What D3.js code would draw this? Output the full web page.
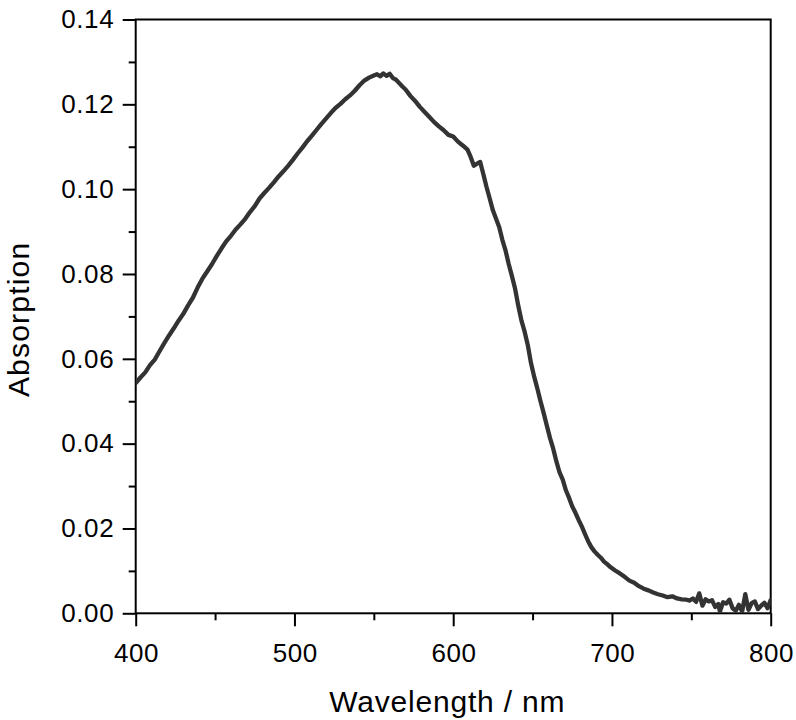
<!DOCTYPE html>
<html>
<head>
<meta charset="utf-8">
<script src="https://cdn.jsdelivr.net/npm/d3@7/dist/d3.min.js"></script>
<style>
  html, body { margin: 0; padding: 0; background: #fff; }
  svg { display: block; }
  text { font-family: "Liberation Sans", Arial, Helvetica, sans-serif; fill: #000; }
</style>
</head>
<body>
<svg id="chart" width="796" height="720"></svg>
<script>
// ---- data ----
const wavelength = [
  400,403,406,409,412,415,418,421,424,427,430,433,436,439,442,445,448,451,454,457,
  460,463,466,469,472,475,478,481,484,487,490,493,496,499,502,505,508,511,514,517,
  520,523,526,529,532,535,538,541,544,547,550,552,554,556,558,560,562,564,566,568,
  570,573,576,579,582,585,588,591,594,597,600,603,606,609,611,613,615,617,619,621,
  623,625,627,629,631,633,635,637,639,641,643,645,647,649,651,653,655,657,659,661,
  663,665,667,669,671,673,675,677,679,681,683,685,687,689,691,693,695,697,699,702,
  705,708,711,714,717,720,723,726,729,732,735,738,741,744,747,749,751,753,755,757,
  759,761,763,765,767,768,770,772,774,776,778,780,782,784,786,788,790,792,794,796,
  798,800
];
const absorption = [
  0.0543,0.0556,0.0568,0.0585,0.0598,0.0618,0.0637,0.0655,0.0672,0.0690,0.0706,0.0726,0.0744,0.0768,0.0789,0.0806,0.0823,0.0842,0.0860,0.0877,
  0.0890,0.0905,0.0917,0.0930,0.0946,0.0960,0.0978,0.0991,0.1003,0.1016,0.1030,0.1042,0.1055,0.1069,0.1084,0.1098,0.1113,0.1126,0.1140,0.1154,
  0.1167,0.1180,0.1192,0.1201,0.1212,0.1221,0.1232,0.1245,0.1256,0.1263,0.1268,0.1271,0.1266,0.1273,0.1267,0.1272,0.1262,0.1258,0.1250,0.1242,
  0.1235,0.1220,0.1208,0.1194,0.1182,0.1170,0.1158,0.1148,0.1139,0.1128,0.1124,0.1112,0.1103,0.1093,0.1076,0.1055,0.1060,0.1064,0.1035,0.1005,
  0.0978,0.0950,0.0930,0.0910,0.0880,0.0855,0.0823,0.0795,0.0765,0.0725,0.0690,0.0664,0.0632,0.0590,0.0558,0.0530,0.0500,0.0472,0.0442,0.0413,
  0.0388,0.0358,0.0332,0.0315,0.0290,0.0272,0.0252,0.0237,0.0220,0.0205,0.0187,0.0170,0.0156,0.0146,0.0138,0.0131,0.0122,0.0116,0.0109,0.0101,
  0.0094,0.0086,0.0077,0.0072,0.0064,0.0058,0.0054,0.0049,0.0045,0.0042,0.0038,0.0040,0.0035,0.0033,0.0032,0.0030,0.0035,0.0027,0.0047,0.0018,
  0.0033,0.0028,0.0031,0.0015,0.0022,0.0004,0.0026,0.0023,0.0032,0.0012,0.0006,0.0020,0.0004,0.0045,0.0008,0.0024,0.0028,0.0010,0.0018,0.0025,
  0.0012,0.0031
];
const xMajorTicks = [400, 500, 600, 700, 800];
const xMinorTicks = [450, 550, 650, 750];
const yMajorTicks = [0.00, 0.02, 0.04, 0.06, 0.08, 0.10, 0.12, 0.14];
const yMinorTicks = [0.01, 0.03, 0.05, 0.07, 0.09, 0.11, 0.13];
const xTitle = "Wavelength / nm";
const yTitle = "Absorption";

// ---- layout ----
const mLeft = 135.7, mRight = 770.7, mTop = 19.5, mBottom = 613.3;
const svg = d3.select("#chart");

const x = d3.scaleLinear().domain([400, 800]).range([mLeft, mRight]);
const y = d3.scaleLinear().domain([0, 0.14]).range([mBottom, mTop]);

const tickFont = 26, letterSp = 0.6;

// x axis: major + minor ticks
const gx = svg.append("g").attr("transform", `translate(0,${mBottom})`)
  .call(d3.axisBottom(x).tickValues(xMajorTicks).tickSize(13).tickSizeOuter(0)
        .tickPadding(16.8).tickFormat(d3.format("d")));
const gxm = svg.append("g").attr("transform", `translate(0,${mBottom})`)
  .call(d3.axisBottom(x).tickValues(xMinorTicks).tickSize(7).tickSizeOuter(0).tickFormat(""));

// y axis
const gy = svg.append("g").attr("transform", `translate(${mLeft},0)`)
  .call(d3.axisLeft(y).tickValues(yMajorTicks).tickSize(13).tickSizeOuter(0)
        .tickPadding(8.5).tickFormat(d3.format(".2f")));
const gym = svg.append("g").attr("transform", `translate(${mLeft},0)`)
  .call(d3.axisLeft(y).tickValues(yMinorTicks).tickSize(7).tickSizeOuter(0).tickFormat(""));

[gx, gxm, gy, gym].forEach(g => {
  g.select(".domain").remove();
  g.selectAll(".tick line").attr("stroke", "#000").attr("stroke-width", 2);
  g.selectAll(".tick text")
    .attr("font-family", '"Liberation Sans", Arial, Helvetica, sans-serif')
    .attr("font-size", tickFont)
    .attr("letter-spacing", letterSp)
    .attr("fill", "#000");
});
gx.selectAll(".tick text").attr("dx", letterSp / 2);

// frame
svg.append("rect")
  .attr("x", mLeft).attr("y", mTop)
  .attr("width", mRight - mLeft).attr("height", mBottom - mTop)
  .attr("fill", "none").attr("stroke", "#000").attr("stroke-width", 2);

// curve
const data = wavelength.map((w, i) => ({ w, a: absorption[i] }));
svg.append("defs").append("clipPath").attr("id", "plotclip")
  .append("rect").attr("x", mLeft).attr("y", mTop - 2)
  .attr("width", mRight - mLeft).attr("height", mBottom - mTop + 2);
svg.append("path")
  .datum(data)
  .attr("clip-path", "url(#plotclip)")
  .attr("fill", "none")
  .attr("stroke", "#333333")
  .attr("stroke-width", 4.3)
  .attr("stroke-linejoin", "round")
  .attr("stroke-linecap", "round")
  .attr("d", d3.line().x(d => x(d.w)).y(d => y(d.a)));

// titles
svg.append("text")
  .attr("x", (mLeft + mRight) / 2 - 6)
  .attr("y", 712)
  .attr("text-anchor", "middle")
  .attr("font-size", 30)
  .attr("letter-spacing", 0.8)
  .text(xTitle);

svg.append("text")
  .attr("transform", `translate(29,${(mTop + mBottom) / 2 + 3}) rotate(-90)`)
  .attr("text-anchor", "middle")
  .attr("font-size", 30)
  .attr("letter-spacing", 1.2)
  .text(yTitle);
</script>
</body>
</html>
